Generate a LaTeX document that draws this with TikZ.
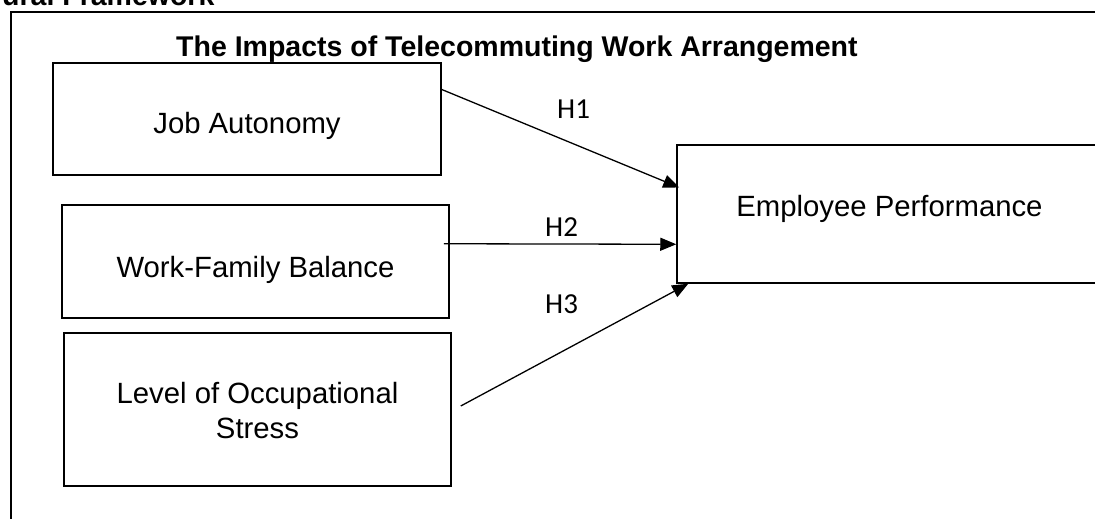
\documentclass[tikz,border=0pt]{standalone}
\usepackage{fontspec}
\setmainfont{Liberation Sans}
\newfontfamily\hfont{Carlito}
\usetikzlibrary{arrows.meta,calc}

\tikzset{
  box/.style={draw=black, line width=1.5pt, rectangle, inner sep=0pt},
  txt/.style={inner sep=0pt, font=\fontsize{29.3}{35}\selectfont},
  ttl/.style={inner sep=0pt, font=\fontsize{28.5}{34}\selectfont\bfseries},
  hyp/.style={inner sep=0pt, font=\hfont\fontsize{29}{34}\selectfont},
  link/.style={line width=1.3pt, -{Triangle[length=16pt,width=13pt]}}
}

\begin{document}
\begin{tikzpicture}[x=1pt,y=-1pt]
  \useasboundingbox (0,0) rectangle (1095,519);
  \clip (0,0) rectangle (1095,519);
  \fill[white] (0,0) rectangle (1095,519);

  % heading above the frame
  \node[ttl, anchor=base west] (head) at (2,6) {ural Framework};

  % outer frame
  \draw[line width=2.4pt] (1110,12) -- (11,12) -- (11,540);

  % title
  \node[ttl, anchor=base west] (title) at (176,57) {The Impacts of Telecommuting Work Arrangement};

  % construct boxes
  \node[box, minimum width=388pt, minimum height=112pt] (ja)  at (247,119) {};
  \node[box, minimum width=387pt, minimum height=113pt] (wfb) at (255.5,261.5) {};
  \node[box, minimum width=387pt, minimum height=153pt] (los) at (257.5,409.5) {};
  \node[box, minimum width=425pt, minimum height=138pt] (ep)  at (889.5,214) {};

  % box captions
  \node[txt, anchor=base] (jat)  at ($(ja.center)+(0,14.3)$) {Job Autonomy};
  \node[txt, anchor=base] (wfbt) at ($(wfb.center)+(0,15.5)$) {Work-Family Balance};
  \node[txt, align=center] (lost) at ($(los.center)+(0,1)$) {Level of Occupational\\Stress};
  \node[txt, anchor=base] (ept)  at ($(ep.center)+(0,2)$) {Employee Performance};

  % hypothesis paths
  \coordinate (h1s) at ($(ja.north east)!0.24!(ja.south east)$);
  \coordinate (h1e) at ($(ep.north west)!0.31!(ep.south west)+(3,0)$);
  \coordinate (h2s) at ($(wfb.north east)!0.345!(wfb.south east)+(-6,0)$);
  \coordinate (h2e) at ($(ep.north west)!0.717!(ep.south west)$);
  \coordinate (h3s) at ($(los.east)+(9,-3.5)$);
  \coordinate (h3e) at ($(ep.south west)+(12,0)$);

  \draw[link] (h1s) -- (h1e);
  \draw[link] (h2s) -- (h2e);
  \draw[link] (h3s) -- (h3e);

  % hypothesis labels
  \node[hyp, anchor=base west] (h1) at (557,118) {H1};
  \node[hyp, anchor=base west] (h2) at (545,236) {H2};
  \node[hyp, anchor=base west] (h3) at (545,313) {H3};
\end{tikzpicture}
\end{document}
